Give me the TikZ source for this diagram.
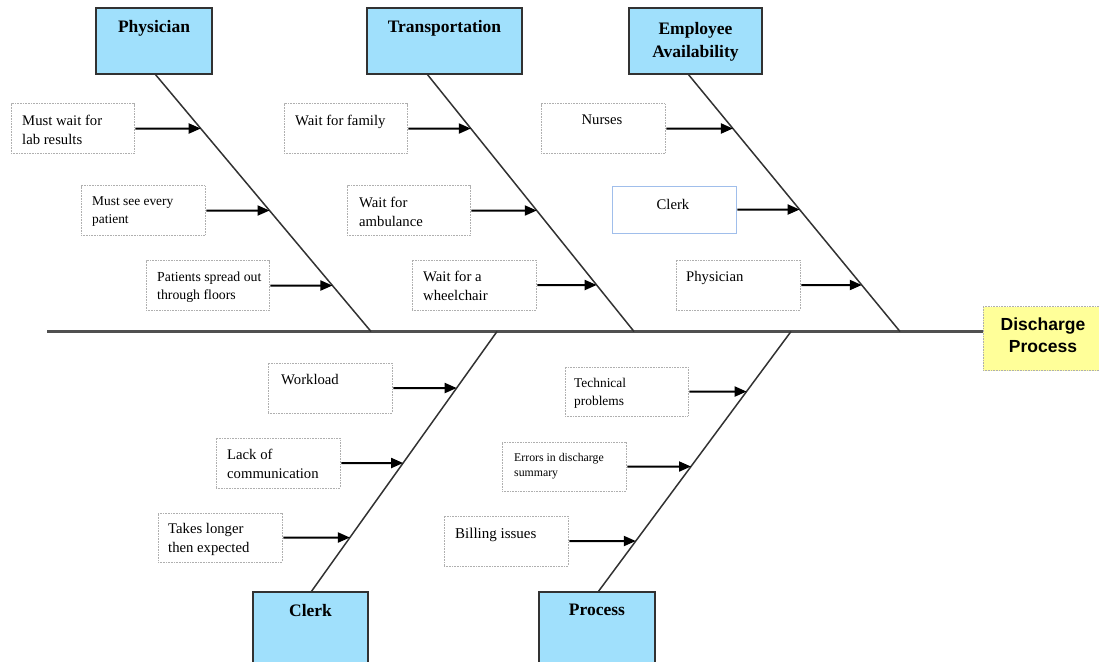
\documentclass[tikz,border=0pt]{standalone}
\usepackage{fontspec}
\setmainfont{Liberation Serif}
\newfontfamily\arialfont{Liberation Sans}
\usetikzlibrary{arrows.meta}
\definecolor{catblue}{RGB}{160,224,252}
\definecolor{dyellow}{RGB}{255,255,153}
\definecolor{dotgray}{RGB}{175,175,175}
\definecolor{clerkblue}{RGB}{160,190,235}
\definecolor{spinecol}{RGB}{50,50,50}
\definecolor{maincol}{RGB}{80,80,80}
\begin{document}
\begin{tikzpicture}[x=1pt,y=-1pt,
  cat/.style={draw=spinecol, line width=1.5pt, fill=catblue, minimum height=66pt, inner sep=0pt},
  cattext/.style={inner sep=0pt, align=center, anchor=north, font=\bfseries\fontsize{17.5}{23}\selectfont},
  sbox/.style={draw=dotgray, line width=0.8pt, dash pattern=on 0.8pt off 0.8pt, minimum width=124pt, minimum height=50pt, inner sep=0pt},
  bluebox/.style={draw=clerkblue, line width=0.9pt, minimum width=124pt, minimum height=47pt, inner sep=0pt},
  txt/.style={inner sep=0pt, align=left, anchor=north west, font=\fontsize{14.7}{19}\selectfont},
  txtc/.style={inner sep=0pt, align=center, anchor=north, font=\fontsize{14.7}{19}\selectfont},
  small/.style={font=\fontsize{13.4}{18}\selectfont},
  tiny/.style={font=\fontsize{11.8}{15.5}\selectfont},
  spine/.style={draw=spinecol, line width=1.5pt},
  mainline/.style={draw=maincol, line width=2.2pt},
  arr/.style={draw=black, line width=2pt, shorten <=1pt, -{Triangle[length=12pt,width=10pt]}}
]
\useasboundingbox (0,0) rectangle (1099,661);
\clip (0,0) rectangle (1099,661);

% category boxes
\node[cat, minimum width=116pt] (phys) at (154,41) {};
\node[cattext] (physT) at (154,20) {Physician};
\node[cat, minimum width=155pt] (trans) at (444.5,41) {};
\node[cattext] (transT) at (444.5,20) {Transportation};
\node[cat, minimum width=133pt] (empl) at (695.5,41) {};
\node[cattext] (emplT) at (695.5,22) {Employee\\Availability};
\node[cat, minimum width=115pt, minimum height=84pt] (clerk) at (310.5,634) {};
\node[cattext] (clerkT) at (310.5,604) {Clerk};
\node[cat, minimum width=116pt, minimum height=84pt] (proc) at (597,634) {};
\node[cattext] (procT) at (597,604) {Process};

% effect box
\node[draw=dotgray, line width=0.8pt, dash pattern=on 0.8pt off 0.8pt, fill=dyellow,
      minimum width=118pt, minimum height=64pt, inner sep=0pt] (dis) at (1042,338.5) {};
\node[inner sep=0pt, align=center, anchor=north,
      font=\arialfont\bfseries\fontsize{17.5}{21.5}\selectfont] (disT) at (1043,318) {Discharge\\Process};

% spine coordinates
\coordinate (phT) at (155,74);  \coordinate (phB) at (371,331.5);
\coordinate (trT) at (427,74);  \coordinate (trB) at (634,331.5);
\coordinate (emT) at (688,74);  \coordinate (emB) at (900,331.5);
\coordinate (clT) at (497,331.5); \coordinate (clB) at (311,592);
\coordinate (prT) at (791,331.5); \coordinate (prB) at (598,592);
\coordinate (mL) at (47,331.5);

\draw[mainline] (mL) -- (mL -| dis.west);
\draw[spine] (phT) -- (phB);
\draw[spine] (trT) -- (trB);
\draw[spine] (emT) -- (emB);
\draw[spine] (clT) -- (clB);
\draw[spine] (prT) -- (prB);

% Physician causes
\node[sbox, minimum width=123pt] (mw) at (72.5,128.5) {};
\node[txt] (mwT) at (22,115) {Must wait for\\lab results};
\node[sbox] (ms) at (143,210.5) {};
\node[txt, small] (msT) at (92,197) {Must see every\\patient};
\node[sbox, minimum width=123pt] (ps) at (207.5,285.5) {};
\node[txt, font=\fontsize{13.8}{18}\selectfont] (psT) at (157,272) {Patients spread out\\through floors};

% Transportation causes
\node[sbox, minimum width=123pt] (wf) at (345.5,128.5) {};
\node[txt] (wfT) at (295,115) {Wait for family};
\node[sbox, minimum width=123pt] (wa) at (408.5,210.5) {};
\node[txt] (waT) at (359,197) {Wait for\\ambulance};
\node[sbox] (ww) at (474,285) {};
\node[txt] (wwT) at (423,271) {Wait for a\\wheelchair};

% Employee causes
\node[sbox] (nu) at (603,128.5) {};
\node[txtc] (nuT) at (602,115) {Nurses};
\node[bluebox] (cl) at (674,209.5) {};
\node[txtc] (clT2) at (673,199) {Clerk};
\node[sbox] (ph2) at (738,285) {};
\node[txt] (ph2T) at (686,271) {Physician};

% Clerk causes
\node[sbox] (wl) at (330,388) {};
\node[txt] (wlT) at (281,374) {Workload};
\node[sbox] (lc) at (278,463) {};
\node[txt] (lcT) at (227,449) {Lack of\\communication};
\node[sbox, minimum height=49pt] (tl) at (220,537.5) {};
\node[txt] (tlT) at (168,523) {Takes longer\\then expected};

% Process causes
\node[sbox, minimum width=123pt, minimum height=49pt] (tp) at (626.5,391.5) {};
\node[txt, small] (tpT) at (574,378) {Technical\\problems};
\node[sbox, minimum height=49pt] (ed) at (564,466.5) {};
\node[txt, tiny] (edT) at (514,453) {Errors in discharge\\summary};
\node[sbox] (bi) at (506,541) {};
\node[txt, font=\fontsize{15}{19}\selectfont] (biT) at (455,528) {Billing issues};

% arrows
\draw[arr] (mw.east) -- (intersection of phT--phB and mw.west--mw.east);
\draw[arr] (ms.east) -- (intersection of phT--phB and ms.west--ms.east);
\draw[arr] (ps.east) -- (intersection of phT--phB and ps.west--ps.east);
\draw[arr] (wf.east) -- (intersection of trT--trB and wf.west--wf.east);
\draw[arr] (wa.east) -- (intersection of trT--trB and wa.west--wa.east);
\draw[arr] (ww.east) -- (intersection of trT--trB and ww.west--ww.east);
\draw[arr] (nu.east) -- (intersection of emT--emB and nu.west--nu.east);
\draw[arr] (cl.east) -- (intersection of emT--emB and cl.west--cl.east);
\draw[arr] (ph2.east) -- (intersection of emT--emB and ph2.west--ph2.east);
\draw[arr] (wl.east) -- (intersection of clT--clB and wl.west--wl.east);
\draw[arr] (lc.east) -- (intersection of clT--clB and lc.west--lc.east);
\draw[arr] (tl.east) -- (intersection of clT--clB and tl.west--tl.east);
\draw[arr] (tp.east) -- (intersection of prT--prB and tp.west--tp.east);
\draw[arr] (ed.east) -- (intersection of prT--prB and ed.west--ed.east);
\draw[arr] (bi.east) -- (intersection of prT--prB and bi.west--bi.east);
\end{tikzpicture}
\end{document}
